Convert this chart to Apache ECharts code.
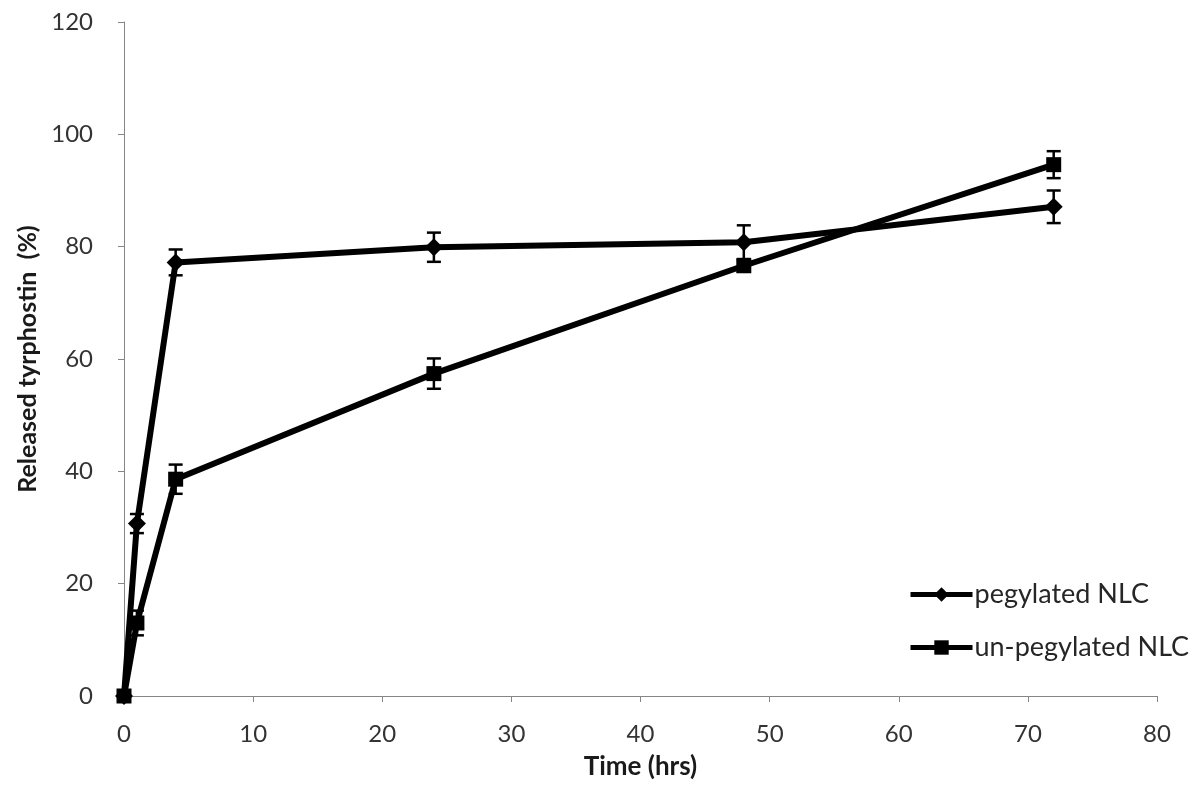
<!DOCTYPE html>
<html><head><meta charset="utf-8">
<script src="https://cdn.jsdelivr.net/npm/echarts@6/dist/echarts.min.js"></script>
<style>html,body{margin:0;padding:0;background:#fff}#c{width:1200px;height:790px}</style>
</head><body><div id="c"></div>
<script>
var timeHrs = [0, 1, 4, 24, 48, 72];
var pegylated = [0, 30.7, 77.2, 79.9, 80.8, 87.1];
var pegylatedErr = [0, 1.7, 2.3, 2.6, 3.0, 2.9];
var unpegylated = [0, 13.0, 38.6, 57.4, 76.6, 94.6];
var unpegylatedErr = [0, 2.2, 2.6, 2.7, 1.0, 2.4];
var seriesNames = ['pegylated NLC', 'un-pegylated NLC'];
var xTitle = 'Time (hrs)';
var yTitle = 'Released tyrphostin  (%)';

function pairs(xs, ys){ return xs.map(function(x,i){return [x, ys[i]];}); }
function errData(xs, ys, es){ return xs.map(function(x,i){return [x, ys[i]-es[i], ys[i]+es[i]];}).filter(function(d,i){return es[i]>0;}); }
function errSeries(data){
  return {
    type:'custom', silent:true, z:5,
    renderItem:function(params, api){
      var x = api.value(0);
      var lo = api.coord([x, api.value(1)]);
      var hi = api.coord([x, api.value(2)]);
      var hw = 7;
      var st = {stroke:'#000', lineWidth:2.5};
      return {type:'group', children:[
        {type:'line', shape:{x1:lo[0],y1:lo[1],x2:hi[0],y2:hi[1]}, style:st},
        {type:'line', shape:{x1:lo[0]-hw,y1:lo[1],x2:lo[0]+hw,y2:lo[1]}, style:st},
        {type:'line', shape:{x1:hi[0]-hw,y1:hi[1],x2:hi[0]+hw,y2:hi[1]}, style:st}
      ]};
    },
    encode:{x:0, y:[1,2]},
    data:data
  };
}
var font = 'Lato, "Open Sans", sans-serif';
var chart = echarts.init(document.getElementById('c'));
chart.setOption({
  animation:false,
  backgroundColor:'#fff',
  grid:{left:124, right:43, top:22, bottom:94},
  legend:{
    data:seriesNames, orient:'vertical', left:903, top:576, itemGap:26,
    itemWidth:62, itemHeight:18,
    lineStyle:{width:5, color:'#000'},
    textStyle:{fontFamily:font, fontSize:27, color:'#262626', padding:[0,0,0,-3]}
  },
  xAxis:{
    type:'value', min:0, max:80, interval:10,
    name:xTitle, nameLocation:'middle', nameGap:58,
    nameTextStyle:{fontFamily:font, fontSize:26, fontWeight:'bold', color:'#1a1a1a'},
    axisLine:{show:true, lineStyle:{color:'#868686', width:1}},
    axisTick:{show:true, length:6, lineStyle:{color:'#868686'}},
    axisLabel:{fontFamily:font, fontSize:24, color:'#333', margin:26},
    splitLine:{show:false}
  },
  yAxis:{
    type:'value', min:0, max:120, interval:20,
    name:yTitle, nameLocation:'middle', nameGap:83,
    nameTextStyle:{fontFamily:font, fontSize:25, fontWeight:'bold', color:'#1a1a1a'},
    axisLine:{show:true, lineStyle:{color:'#868686', width:1}},
    axisTick:{show:true, length:6, lineStyle:{color:'#868686'}},
    axisLabel:{fontFamily:font, fontSize:24, color:'#333', margin:31},
    splitLine:{show:false}
  },
  series:[
    {name:seriesNames[0], type:'line', data:pairs(timeHrs, pegylated),
     symbol:'diamond', symbolSize:18, lineStyle:{color:'#000', width:6},
     itemStyle:{color:'#000'}, z:3},
    {name:seriesNames[1], type:'line', data:pairs(timeHrs, unpegylated),
     symbol:'rect', symbolSize:15, lineStyle:{color:'#000', width:6},
     itemStyle:{color:'#000'}, z:3},
    errSeries(errData(timeHrs, pegylated, pegylatedErr)),
    errSeries(errData(timeHrs, unpegylated, unpegylatedErr))
  ]
});
</script></body></html>
